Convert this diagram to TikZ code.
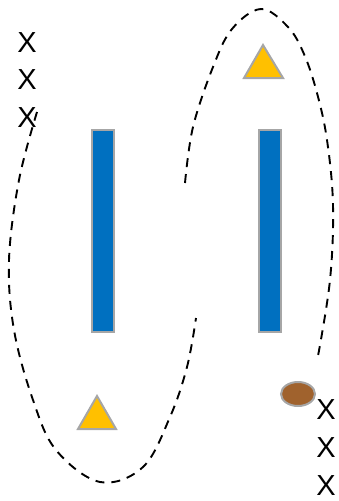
\documentclass[tikz,border=0pt]{standalone}
\usepackage{fontspec}
\setmainfont{Liberation Sans}
\usepackage{xcolor}
\definecolor{barblue}{HTML}{0070C0}
\definecolor{rimgray}{HTML}{A6A6A6}
\definecolor{tigold}{HTML}{FFC000}
\definecolor{stonebrown}{HTML}{A0622D}

\begin{document}
\begin{tikzpicture}[%
    x=1pt, y=-1pt,
    bar/.style={
      draw=rimgray,
      line width=2pt,
      fill=barblue
    },
    tri/.style={
      draw=rimgray,
      line width=2pt,
      fill=tigold,
      line join=miter
    },
    stone/.style={
      draw=rimgray,
      line width=2pt,
      fill=stonebrown
    },
    cross/.style={
      inner sep=0pt,
      font=\fontsize{29}{29}\selectfont
    },
    path/.style={
      dash pattern=on 9pt off 7pt,
      line width=1.9pt
    }
  ]
    \useasboundingbox (0,0) rectangle (339,501);

    % Bars
    \draw[bar] (92,130) rectangle (114,332);
    \draw[bar] (259,130) rectangle (281,332);

    % Triangles
    \draw[tri] (263,45) -- (283,78) -- (244,78) -- cycle;
    \draw[tri] (97,396) -- (116,429) -- (78,429) -- cycle;

    % Stone
    \draw[stone] (298,394) ellipse (17 and 12);

    % Crosses
    \node[cross] (L1) at (27,43)  {X};
    \node[cross] (L2) at (27,80)  {X};
    \node[cross] (L3) at (27,118) {X};
    \node[cross] (R1) at (326,410) {X};
    \node[cross] (R2) at (326,448) {X};
    \node[cross] (R3) at (326,486) {X};

    % Dashed curves
    \draw[path] plot[smooth, tension=0.6] coordinates {
      (37,112) (19,180) (9,260) (14,330) (33,400) (56,450) (100,482)
      (143,467) (170,417) (187,367) (196,318)};
    \draw[path] plot[smooth, tension=0.6] coordinates {
      (185,183) (193,127) (213,67) (232,29) (261,9) (288,27) (304,54)
      (317,93) (327,140) (333,205) (330,280) (318,356)};
\end{tikzpicture}
\end{document}
